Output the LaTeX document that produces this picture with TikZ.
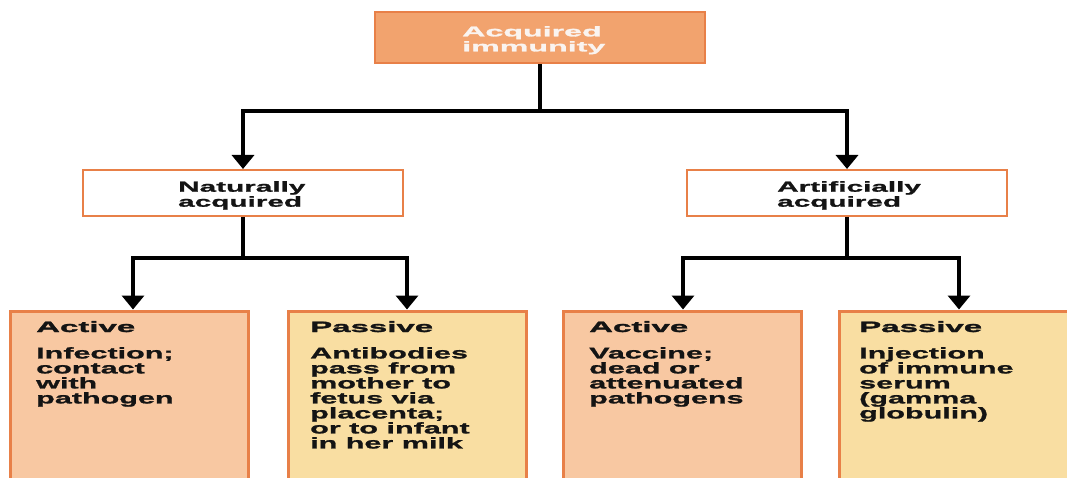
\documentclass[tikz,border=0pt]{standalone}
\usepackage{fontspec}
\setmainfont{Liberation Sans}
\newfontfamily\bodyf{Liberation Sans}[FakeStretch=1.97,BoldFeatures={FakeBold=1.3}]
\newfontfamily\headf{Liberation Sans}[FakeStretch=2.2,BoldFeatures={FakeBold=2}]
\newfontfamily\midf{Liberation Sans}[FakeStretch=2.05,BoldFeatures={FakeBold=1.3}]
\newfontfamily\topf{Liberation Sans}[FakeStretch=2.3,BoldFeatures={FakeBold=2}]
\usetikzlibrary{arrows.meta}
\definecolor{topfill}{RGB}{242,163,110}
\definecolor{edge}{RGB}{232,128,72}
\definecolor{activefill}{RGB}{248,200,162}
\definecolor{passivefill}{RGB}{249,222,162}
\definecolor{ink}{RGB}{20,20,20}
\definecolor{topink}{RGB}{250,244,240}
\begin{document}
\begin{tikzpicture}[x=1pt,y=-1pt,
  topbox/.style={draw=edge,line width=2pt,fill=topfill,minimum width=330pt,minimum height=51pt,inner sep=0pt},
  midbox/.style={draw=edge,line width=2pt,fill=white,minimum width=320pt,minimum height=46pt,inner sep=0pt},
  lowbox/.style={draw=edge,line width=3pt,minimum width=238pt,minimum height=178pt,inner sep=0pt},
  toptext/.style={anchor=north west,inner sep=0pt,align=left,text=topink,font=\topf\bfseries\fontsize{14}{15}\selectfont},
  midtext/.style={anchor=north west,inner sep=0pt,align=left,text=ink,font=\midf\bfseries\fontsize{14.5}{15}\selectfont},
  headtext/.style={anchor=base west,inner sep=0pt,text=ink,font=\headf\bfseries\fontsize{15}{15}\selectfont},
  bodytext/.style={anchor=north west,inner sep=0pt,align=left,text=ink,font=\bodyf\bfseries\fontsize{15.5}{15}\selectfont},
  conn/.style={line width=3.5pt,draw=black},
  arr/.style={conn,-{Triangle[width=22pt,length=14pt]}}
]
\useasboundingbox (0,0) rectangle (1067,478);
\clip (0,0) rectangle (1067,478);

% boxes
\node[topbox] (top) at (540,37.5) {};
\node[midbox] (nat) at (243,193) {};
\node[midbox] (art) at (847,193) {};
\node[lowbox,fill=activefill]  (na) at (129,400) {};
\node[lowbox,fill=passivefill] (np) at (407,400) {};
\node[lowbox,fill=activefill]  (aa) at (682,400) {};
\node[lowbox,fill=passivefill] (ap) at (958,400) {};

% texts
\node[toptext] (ttop) at (462,26) {Acquired\\immunity};
\node[midtext] (tnat) at (178,181) {Naturally\\acquired};
\node[midtext] (tart) at (777,181) {Artificially\\acquired};

\node[headtext] (hna) at (36,332) {Active};
\node[bodytext] (bna) at (36,347) {Infection;\\contact\\with\\pathogen};
\node[headtext] (hnp) at (310,332) {Passive};
\node[bodytext] (bnp) at (310,347) {Antibodies\\pass from\\mother to\\fetus via\\placenta;\\or to infant\\in her milk};
\node[headtext] (haa) at (589,332) {Active};
\node[bodytext] (baa) at (589,347) {Vaccine;\\dead or\\attenuated\\pathogens};
\node[headtext] (hap) at (859,332) {Passive};
\node[bodytext] (bap) at (859,347) {Injection\\of immune\\serum\\(gamma\\globulin)};

% junctions
\coordinate (j1) at (540,111);
\coordinate (j2) at (243,258);
\coordinate (j3) at (847,258);

% connectors
\draw[conn] (top.south) -- (j1);
\draw[arr] (j1) -| (nat.north);
\draw[arr] (j1) -| (art.north);
\draw[conn] (nat.south) -- (j2);
\draw[arr] (j2) -| ([xshift=4pt]na.north);
\draw[arr] (j2) -| (np.north);
\draw[conn] (art.south) -- (j3);
\draw[arr] (j3) -| ([xshift=1pt]aa.north);
\draw[arr] (j3) -| ([xshift=1pt]ap.north);
\end{tikzpicture}
\end{document}
